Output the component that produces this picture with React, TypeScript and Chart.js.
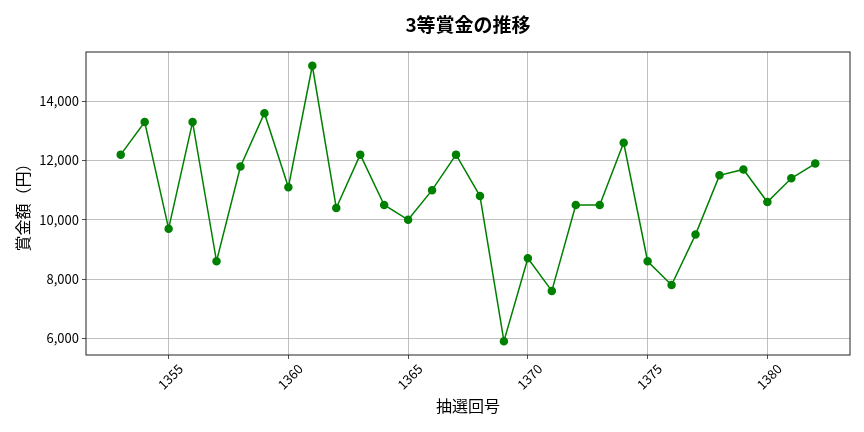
import React, { useEffect, useRef } from "react";
import { Chart, registerables } from "chart.js";

Chart.register(...registerables);

const draws = [1353, 1354, 1355, 1356, 1357, 1358, 1359, 1360, 1361, 1362, 1363, 1364, 1365, 1366, 1367, 1368, 1369, 1370, 1371, 1372, 1373, 1374, 1375, 1376, 1377, 1378, 1379, 1380, 1381, 1382];
const prizes = [12200, 13300, 9700, 13300, 8600, 11800, 13600, 11100, 15200, 10400, 12200, 10500, 10000, 11000, 12200, 10800, 5900, 8700, 7600, 10500, 10500, 12600, 8600, 7800, 9500, 11500, 11700, 10600, 11400, 11900];
const xTicks = [1355, 1360, 1365, 1370, 1375, 1380];
const yTicks = [6000, 8000, 10000, 12000, 14000];
const titleText = "3等賞金の推移";
const xTitle = "抽選回号";
const yTitle = "賞金額（円）";

const FONT = "'Noto Sans CJK JP', 'Noto Sans', sans-serif";

export default function App() {
  const ref = useRef<HTMLCanvasElement>(null);
  useEffect(() => {
    const xmin = Math.min(...draws), xmax = Math.max(...draws);
    const ymin = Math.min(...prizes), ymax = Math.max(...prizes);
    const xm = (xmax - xmin) * 0.05, ym = (ymax - ymin) * 0.05;
    const titlePlugin = {
      id: "customTitle",
      afterDraw(chart: any) {
        const { ctx, chartArea } = chart;
        ctx.save();
        ctx.fillStyle = "#000";
        ctx.font = `bold 19px ${FONT}`;
        ctx.textAlign = "center";
        ctx.textBaseline = "middle";
        ctx.fillText(titleText, (chartArea.left + chartArea.right) / 2, 25);
        ctx.restore();
      },
    };
    const borderPlugin = {
      id: "frame",
      afterDatasetsDraw(chart: any) {
        const { ctx, chartArea } = chart;
        ctx.save();
        ctx.strokeStyle = "#222";
        ctx.lineWidth = 1;
        ctx.strokeRect(chartArea.left, chartArea.top, chartArea.right - chartArea.left, chartArea.bottom - chartArea.top);
        ctx.restore();
      },
    };
    const chart = new Chart(ref.current!, {
      type: "line",
      data: {
        datasets: [
          {
            data: draws.map((d, i) => ({ x: d, y: prizes[i] })),
            borderColor: "#008000",
            backgroundColor: "#008000",
            borderWidth: 1.5,
            pointRadius: 3.5,
            pointHoverRadius: 3.5,
            tension: 0,
          },
        ],
      },
      options: {
        animation: false,
        responsive: false,
        layout: { padding: { top: 52, right: 14, left: 0, bottom: 0 } },
        plugins: { legend: { display: false }, title: { display: false }, tooltip: { enabled: false } },
        scales: {
          x: {
            type: "linear",
            min: xmin - xm,
            max: xmax + xm,
            afterBuildTicks: (s: any) => { s.ticks = xTicks.map((v) => ({ value: v })); },
            afterFit: (s: any) => { s.height = 77; },
            grid: { color: "#b0b0b0", lineWidth: 0.8, tickLength: 4, tickColor: "#222" },
            border: { display: false },
            ticks: {
              minRotation: 45,
              maxRotation: 45,
              labelOffset: 12,
              padding: 2,
              color: "#000",
              font: { family: FONT, size: 13 },
              callback: (v: any) => String(v),
            },
            title: { display: true, text: xTitle, color: "#000", font: { family: FONT, size: 16 }, padding: { top: 4, bottom: 16 } },
          },
          y: {
            type: "linear",
            min: ymin - ym,
            max: ymax + ym,
            afterBuildTicks: (s: any) => { s.ticks = yTicks.map((v) => ({ value: v })); },
            afterFit: (s: any) => { s.width = 86; },
            grid: { color: "#b0b0b0", lineWidth: 0.8, tickLength: 4, tickColor: "#222" },
            border: { display: false },
            ticks: {
              color: "#000",
              padding: 3,
              font: { family: FONT, size: 13 },
              callback: (v: any) => Number(v).toLocaleString("en-US"),
            },
            title: { display: true, text: yTitle, color: "#000", font: { family: FONT, size: 16 }, padding: { top: 13, bottom: 4 } },
          },
        },
      },
      plugins: [titlePlugin, borderPlugin],
    });
    return () => chart.destroy();
  }, []);
  return (
    <div style={{ position: "fixed", left: 0, top: 0, width: 864, height: 432, background: "#fff" }}>
      <canvas ref={ref} width={864} height={432} style={{ width: 864, height: 432 }} />
    </div>
  );
}
